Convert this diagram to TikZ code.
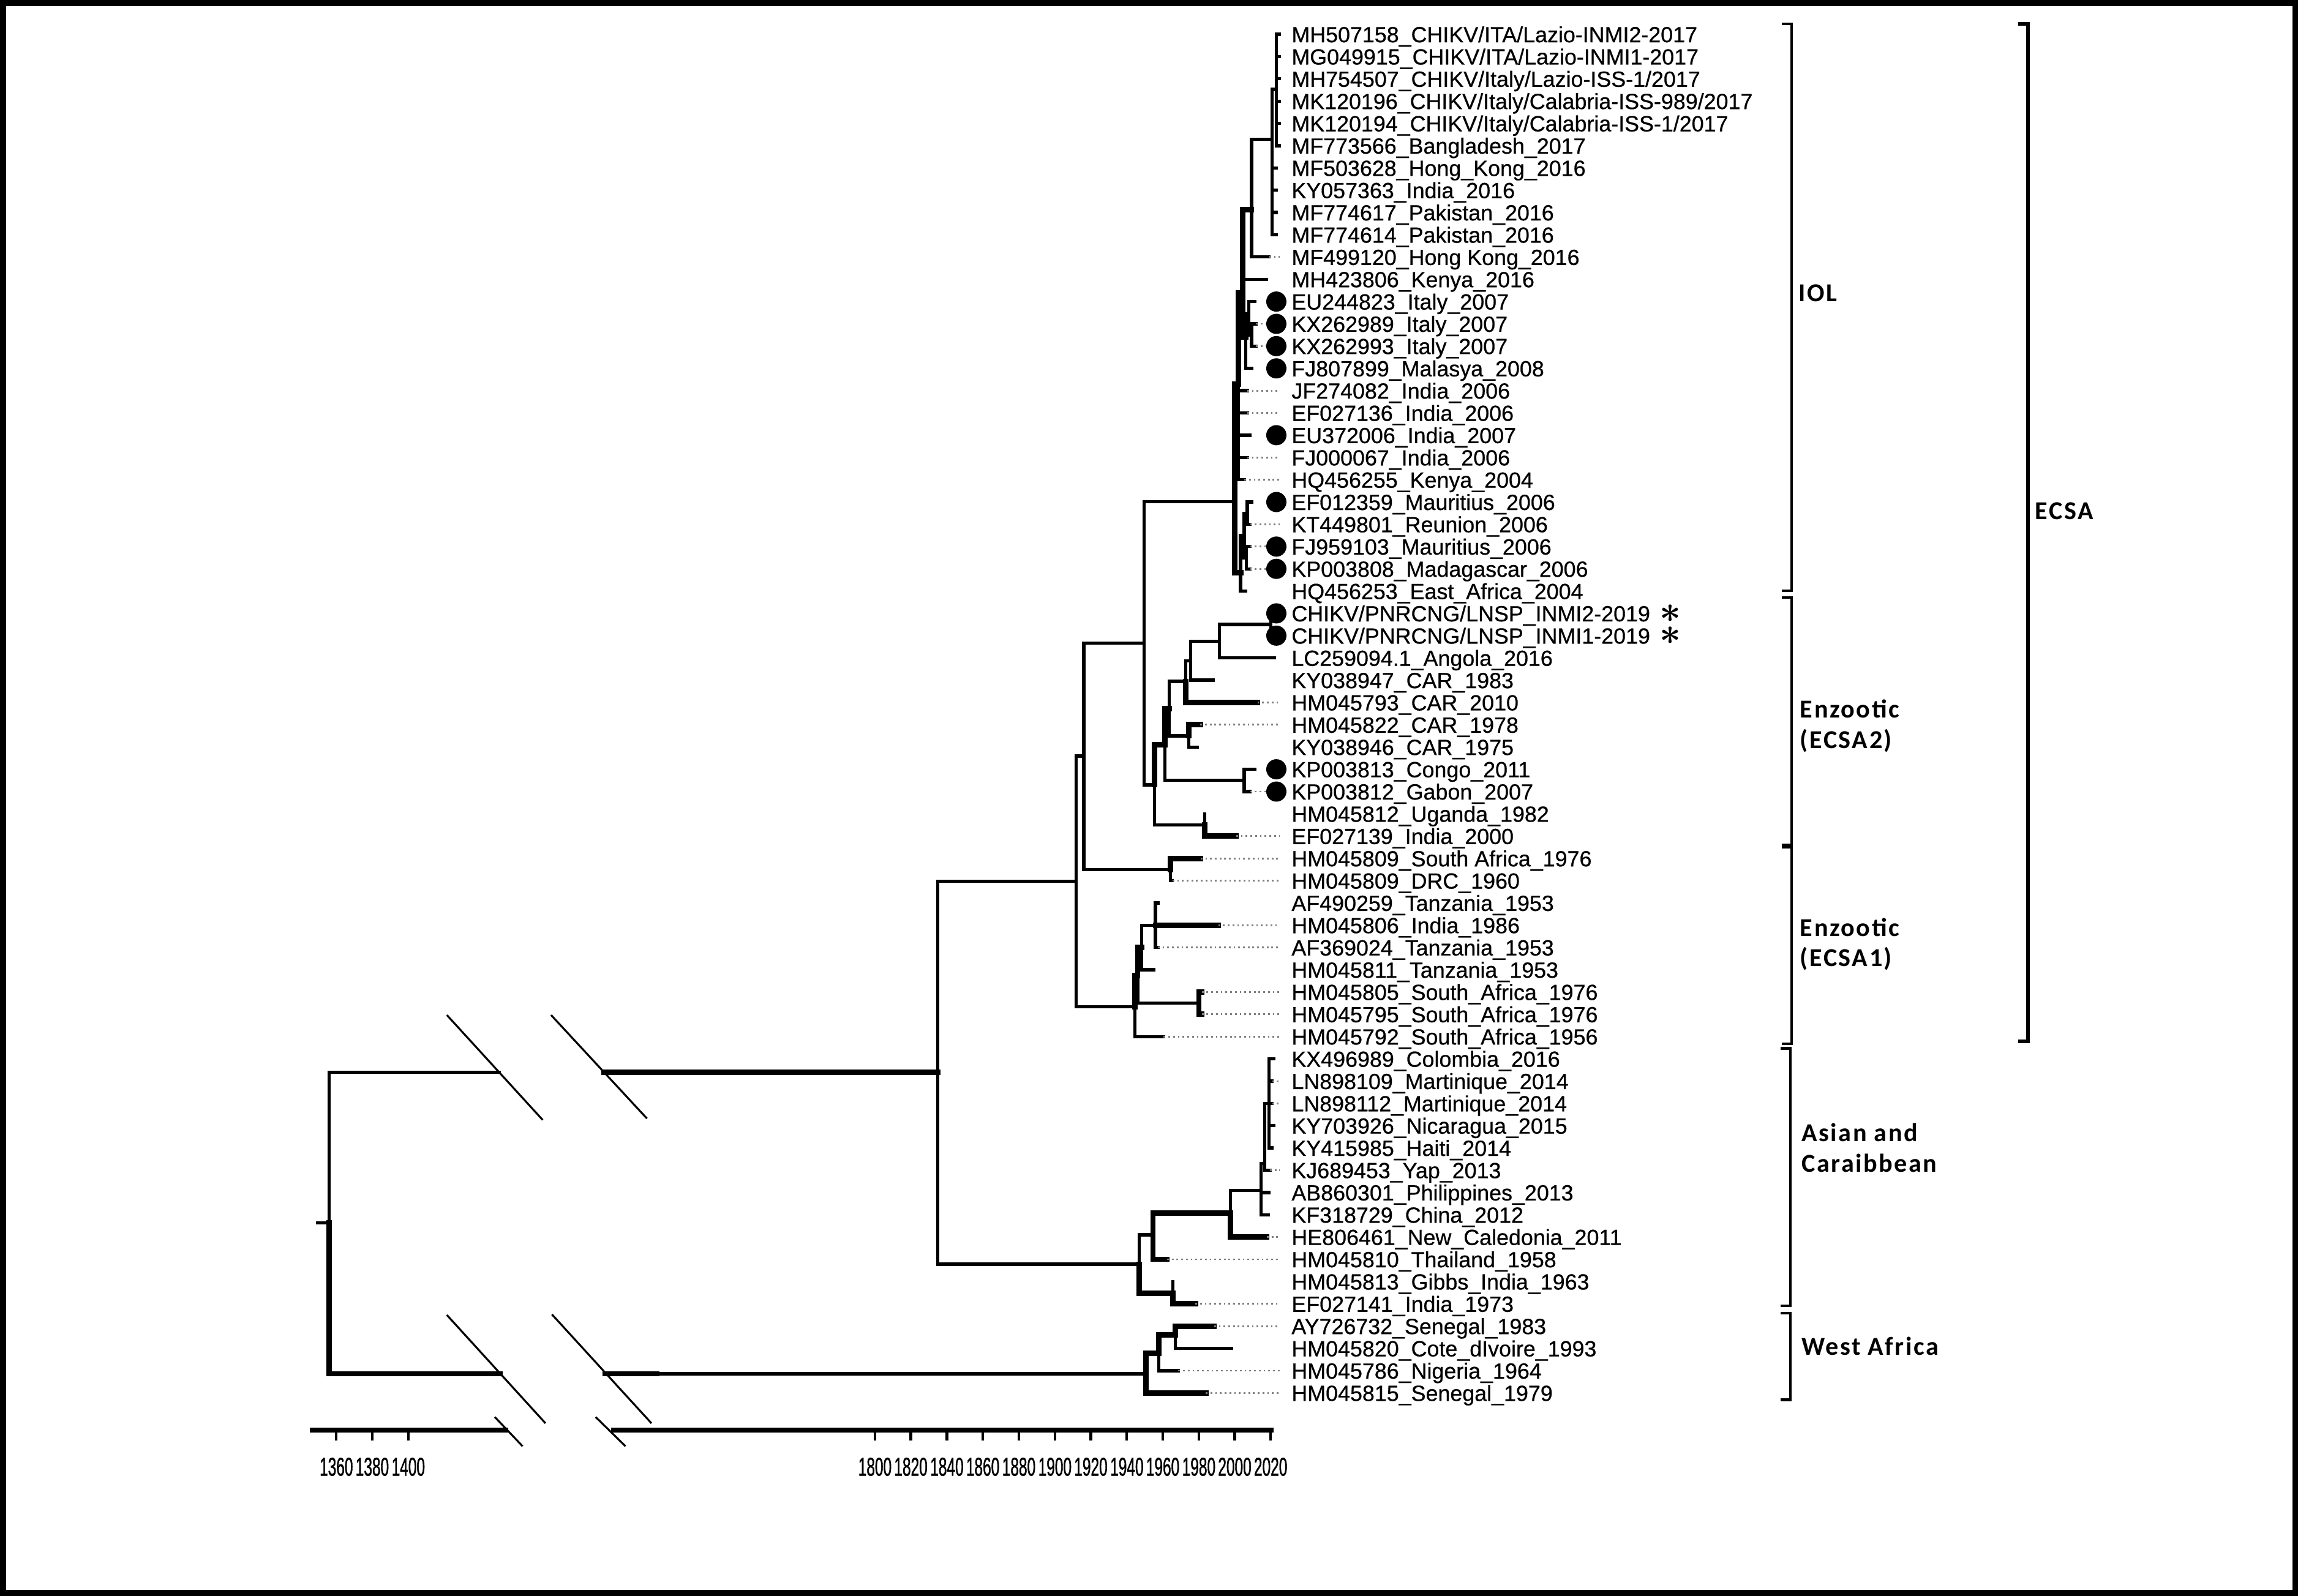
\documentclass[tikz,border=0pt]{standalone}
\usepackage{fontspec}
\usepackage{amsmath}
\usetikzlibrary{positioning,calc}
\newfontfamily\labfont[FakeBold=0.6]{Liberation Sans}
\newfontfamily\yearfont[FakeStretch=0.58, FakeBold=1]{Liberation Sans}
\newfontfamily\cladefont[LetterSpace=6]{Carlito}

\tikzstyle{br} = [line width=1.5pt, line cap=rect]
\tikzstyle{brt} = [line width=2.5pt, line cap=rect]
\tikzstyle{ext} = [draw=black!50, line width=0.8pt, dash pattern=on 0.8pt off 1.4pt]
\tikzstyle{brk} = [line width=0.9pt]
\tikzstyle{leaf} = [anchor=west, inner sep=0pt, font=\labfont\fontsize{10.2}{10.2}\selectfont, text height=7.4pt, text depth=0pt]
\tikzstyle{hit} = [circle, fill=black, inner sep=0pt, minimum size=0.33cm]
\tikzstyle{ast} = [anchor=west, align=left, inner sep=0pt, font=\fontsize{17.28}{10.35}\selectfont]
\tikzstyle{clade} = [anchor=west, align=left, inner sep=0pt, font=\cladefont\bfseries\fontsize{12}{14.2}\selectfont]
\tikzstyle{bracket} = [line width=1.2pt]
\tikzstyle{bigbracket} = [line width=1.8pt]
\tikzstyle{axis} = [line width=2.4pt]
\tikzstyle{tick} = [line width=1.2pt]
\tikzstyle{year} = [inner sep=0pt, font=\yearfont\fontsize{12}{12}\selectfont]

\begin{document}
\begin{tikzpicture}[x=0.023935cm, y=-0.023935cm]
\useasboundingbox (0,0) rectangle (1568,1089);
\draw[line width=2.7pt] (2,2) rectangle (1566,1087);

% leaves
\coordinate (t1) at (873,23.4); \node[leaf] (l1) at (881,23.4) {MH507158\_CHIKV/ITA/Lazio-INMI2-2017};
\coordinate (t2) at (873,38.6); \node[leaf] (l2) at (881,38.6) {MG049915\_CHIKV/ITA/Lazio-INMI1-2017};
\coordinate (t3) at (873,53.8); \node[leaf] (l3) at (881,53.8) {MH754507\_CHIKV/Italy/Lazio-ISS-1/2017};
\coordinate (t4) at (873,69.0); \node[leaf] (l4) at (881,69.0) {MK120196\_CHIKV/Italy/Calabria-ISS-989/2017};
\coordinate (t5) at (873,84.2); \node[leaf] (l5) at (881,84.2) {MK120194\_CHIKV/Italy/Calabria-ISS-1/2017};
\coordinate (t6) at (873,99.4); \node[leaf] (l6) at (881,99.4) {MF773566\_Bangladesh\_2017};
\coordinate (t7) at (871,114.6); \node[leaf] (l7) at (881,114.6) {MF503628\_Hong\_Kong\_2016};
\coordinate (t8) at (871,129.8); \node[leaf] (l8) at (881,129.8) {KY057363\_India\_2016};
\coordinate (t9) at (871,145.0); \node[leaf] (l9) at (881,145.0) {MF774617\_Pakistan\_2016};
\coordinate (t10) at (871,160.2); \node[leaf] (l10) at (881,160.2) {MF774614\_Pakistan\_2016};
\coordinate (t11) at (866,175.4); \node[leaf] (l11) at (881,175.4) {MF499120\_Hong Kong\_2016};
\coordinate (t12) at (864,190.6); \node[leaf] (l12) at (881,190.6) {MH423806\_Kenya\_2016};
\coordinate (t13) at (856,205.8); \node[leaf] (l13) at (881,205.8) {EU244823\_Italy\_2007};
\coordinate (t14) at (857,221.0); \node[leaf] (l14) at (881,221.0) {KX262989\_Italy\_2007};
\coordinate (t15) at (857,236.2); \node[leaf] (l15) at (881,236.2) {KX262993\_Italy\_2007};
\coordinate (t16) at (854,251.4); \node[leaf] (l16) at (881,251.4) {FJ807899\_Malasya\_2008};
\coordinate (t17) at (851,266.6); \node[leaf] (l17) at (881,266.6) {JF274082\_India\_2006};
\coordinate (t18) at (851,281.8); \node[leaf] (l18) at (881,281.8) {EF027136\_India\_2006};
\coordinate (t19) at (853,297.0); \node[leaf] (l19) at (881,297.0) {EU372006\_India\_2007};
\coordinate (t20) at (851,312.2); \node[leaf] (l20) at (881,312.2) {FJ000067\_India\_2006};
\coordinate (t21) at (849,327.4); \node[leaf] (l21) at (881,327.4) {HQ456255\_Kenya\_2004};
\coordinate (t22) at (854,342.6); \node[leaf] (l22) at (881,342.6) {EF012359\_Mauritius\_2006};
\coordinate (t23) at (853,357.8); \node[leaf] (l23) at (881,357.8) {KT449801\_Reunion\_2006};
\coordinate (t24) at (853,373.0); \node[leaf] (l24) at (881,373.0) {FJ959103\_Mauritius\_2006};
\coordinate (t25) at (853,388.2); \node[leaf] (l25) at (881,388.2) {KP003808\_Madagascar\_2006};
\coordinate (t26) at (850,403.4); \node[leaf] (l26) at (881,403.4) {HQ456253\_East\_Africa\_2004};
\coordinate (t27) at (869,418.6); \node[leaf] (l27) at (881,418.6) {CHIKV/PNRCNG/LNSP\_INMI2-2019};
\coordinate (t28) at (869,433.8); \node[leaf] (l28) at (881,433.8) {CHIKV/PNRCNG/LNSP\_INMI1-2019};
\coordinate (t29) at (869.5,449.0); \node[leaf] (l29) at (881,449.0) {LC259094.1\_Angola\_2016};
\coordinate (t30) at (827.8,464.2); \node[leaf] (l30) at (881,464.2) {KY038947\_CAR\_1983};
\coordinate (t31) at (858,479.4); \node[leaf] (l31) at (881,479.4) {HM045793\_CAR\_2010};
\coordinate (t32) at (819,494.6); \node[leaf] (l32) at (881,494.6) {HM045822\_CAR\_1978};
\coordinate (t33) at (817,509.8); \node[leaf] (l33) at (881,509.8) {KY038946\_CAR\_1975};
\coordinate (t34) at (856,525.0); \node[leaf] (l34) at (881,525.0) {KP003813\_Congo\_2011};
\coordinate (t35) at (853,540.2); \node[leaf] (l35) at (881,540.2) {KP003812\_Gabon\_2007};
\coordinate (t36) at (822,555.4); \node[leaf] (l36) at (881,555.4) {HM045812\_Uganda\_1982};
\coordinate (t37) at (843.5,570.6); \node[leaf] (l37) at (881,570.6) {EF027139\_India\_2000};
\coordinate (t38) at (819.2,585.8); \node[leaf] (l38) at (881,585.8) {HM045809\_South Africa\_1976};
\coordinate (t39) at (800,601.0); \node[leaf] (l39) at (881,601.0) {HM045809\_DRC\_1960};
\coordinate (t40) at (790,616.2); \node[leaf] (l40) at (881,616.2) {AF490259\_Tanzania\_1953};
\coordinate (t41) at (831.3,631.4); \node[leaf] (l41) at (881,631.4) {HM045806\_India\_1986};
\coordinate (t42) at (790,646.6); \node[leaf] (l42) at (881,646.6) {AF369024\_Tanzania\_1953};
\coordinate (t43) at (787.4,661.8); \node[leaf] (l43) at (881,661.8) {HM045811\_Tanzania\_1953};
\coordinate (t44) at (820,677.0); \node[leaf] (l44) at (881,677.0) {HM045805\_South\_Africa\_1976};
\coordinate (t45) at (820,692.2); \node[leaf] (l45) at (881,692.2) {HM045795\_South\_Africa\_1976};
\coordinate (t46) at (794,707.4); \node[leaf] (l46) at (881,707.4) {HM045792\_South\_Africa\_1956};
\coordinate (t47) at (869,722.6); \node[leaf] (l47) at (881,722.6) {KX496989\_Colombia\_2016};
\coordinate (t48) at (868,737.8); \node[leaf] (l48) at (881,737.8) {LN898109\_Martinique\_2014};
\coordinate (t49) at (868,753.0); \node[leaf] (l49) at (881,753.0) {LN898112\_Martinique\_2014};
\coordinate (t50) at (869,768.2); \node[leaf] (l50) at (881,768.2) {KY703926\_Nicaragua\_2015};
\coordinate (t51) at (868,783.4); \node[leaf] (l51) at (881,783.4) {KY415985\_Haiti\_2014};
\coordinate (t52) at (866.5,798.6); \node[leaf] (l52) at (881,798.6) {KJ689453\_Yap\_2013};
\coordinate (t53) at (866,813.8); \node[leaf] (l53) at (881,813.8) {AB860301\_Philippines\_2013};
\coordinate (t54) at (865.5,829.0); \node[leaf] (l54) at (881,829.0) {KF318729\_China\_2012};
\coordinate (t55) at (864.4,844.2); \node[leaf] (l55) at (881,844.2) {HE806461\_New\_Caledonia\_2011};
\coordinate (t56) at (796.3,859.4); \node[leaf] (l56) at (881,859.4) {HM045810\_Thailand\_1958};
\coordinate (t57) at (800.4,874.6); \node[leaf] (l57) at (881,874.6) {HM045813\_Gibbs\_India\_1963};
\coordinate (t58) at (815.6,889.8); \node[leaf] (l58) at (881,889.8) {EF027141\_India\_1973};
\coordinate (t59) at (828.4,905.0); \node[leaf] (l59) at (881,905.0) {AY726732\_Senegal\_1983};
\coordinate (t60) at (840.4,920.2); \node[leaf] (l60) at (881,920.2) {HM045820\_Cote\_dIvoire\_1993};
\coordinate (t61) at (804,935.4); \node[leaf] (l61) at (881,935.4) {HM045786\_Nigeria\_1964};
\coordinate (t62) at (822.7,950.6); \node[leaf] (l62) at (881,950.6) {HM045815\_Senegal\_1979};

% internal nodes
\coordinate (rs) at (216.7,834.5);
\coordinate (rt) at (224.5,834.5);
\coordinate (tb1) at (340.7,731.9);
\coordinate (tb2) at (412.3,731.9);
\coordinate (bb1) at (341,937.5);
\coordinate (bb2) at (413.1,937.5);
\coordinate (bb3) at (448,937.5);
\coordinate (A) at (640,731.9);
\coordinate (B) at (734.3,601.5);
\coordinate (C) at (739.5,516);
\coordinate (D) at (780.5,439);
\coordinate (I) at (842.5,342.3);
\coordinate (Q) at (845,262);
\coordinate (T) at (848,200);
\coordinate (U) at (854,143);
\coordinate (X) at (868,95);
\coordinate (W) at (871,61);
\coordinate (It) at (850,230);
\coordinate (It2) at (852,214);
\coordinate (It3) at (854,228.6);
\coordinate (M1) at (846.5,390.7);
\coordinate (M2) at (849,365.4);
\coordinate (M3) at (851,350.2);
\coordinate (M4) at (850.5,380.6);
\coordinate (E2) at (787.6,535.6);
\coordinate (E2b) at (822,563);
\coordinate (H6) at (795,508.1);
\coordinate (CG) at (849,532.6);
\coordinate (H4) at (797.7,483.6);
\coordinate (H5) at (811,502.2);
\coordinate (H3) at (809,465);
\coordinate (H2) at (812.5,451);
\coordinate (H1) at (832,437.6);
\coordinate (CH) at (867,426.2);
\coordinate (SD) at (798.7,593.4);
\coordinate (E1) at (774.4,687);
\coordinate (F3) at (776.3,665.6);
\coordinate (F2) at (779,646.6);
\coordinate (F1) at (788.4,631.4);
\coordinate (F4) at (818,684.6);
\coordinate (AS) at (777.2,862.7);
\coordinate (AS1) at (786.7,842.7);
\coordinate (AS2) at (800.4,882.6);
\coordinate (AS3) at (839.6,828);
\coordinate (AS4) at (860.3,812.5);
\coordinate (AS5) at (862.8,794);
\coordinate (AS6) at (866,753);
\coordinate (WA) at (782,937.5);
\coordinate (WA1) at (790.8,923.4);
\coordinate (WA2) at (802,911);
\coordinate (dx) at (873,0);

% root and broken branches
\draw[br] (rs) -- (rt);
\draw[br] (rt) |- (tb1);
\draw[brt] (tb2) -- (A);
\draw[brt] (rt) |- (bb1);
\draw[brt] (bb2) -- (bb3);
\draw[br] (bb3) -- (WA);
\draw[brk] (304.9,692.7) -- (370.3,764.3);
\draw[brk] (376,692.7) -- (441.4,763.3);
\draw[brk] (304.9,897.4) -- (372.2,971.3);
\draw[brk] (376.6,897) -- (444.5,971.3);

% ECSA
\draw[br] (A) |- (B);
\draw[br] (A) |- (AS);
\draw[br] (B) |- (C);
\draw[br] (B) |- (E1);
\draw[br] (C) |- (D);
\draw[br] (C) |- (SD);
\draw[br] (D) |- (I);
\draw[br] (D) |- (E2);
% IOL
\draw[brt] (I) |- (Q);
\draw[brt] (I) |- (M1);
\draw[brt] (Q) |- (T);
\draw[br] (Q) |- (t17); \draw[br] (Q) |- (t18); \draw[br] (Q) |- (t19);
\draw[br] (Q) |- (t20); \draw[br] (Q) |- (t21);
\draw[brt] (T) |- (U);
\draw[br] (T) |- (t12);
\draw[brt] (T) |- (It);
\draw[br] (It) |- (It2); \draw[br] (It) |- (t16);
\draw[br] (It2) |- (t13); \draw[br] (It2) |- (It3);
\draw[br] (It3) |- (t14); \draw[br] (It3) |- (t15);
\draw[br] (U) |- (X); \draw[br] (U) |- (t11);
\draw[br] (X) |- (W);
\draw[br] (X) |- (t7); \draw[br] (X) |- (t8); \draw[br] (X) |- (t9); \draw[br] (X) |- (t10);
\draw[br] (W) |- (t1); \draw[br] (W) |- (t2); \draw[br] (W) |- (t3);
\draw[br] (W) |- (t4); \draw[br] (W) |- (t5); \draw[br] (W) |- (t6);
\draw[br] (M1) |- (M2); \draw[br] (M1) |- (t26);
\draw[br] (M2) |- (M3); \draw[br] (M2) |- (M4);
\draw[br] (M3) |- (t22); \draw[br] (M3) |- (t23);
\draw[br] (M4) |- (t24); \draw[br] (M4) |- (t25);
% ECSA2
\draw[brt] (E2) |- (H6);
\draw[br] (E2) |- (E2b);
\draw[br] (E2b) |- (t36); \draw[brt] (E2b) |- (t37);
\draw[brt] (H6) |- (H4);
\draw[br] (H6) |- (CG);
\draw[br] (CG) |- (t34); \draw[br] (CG) |- (t35);
\draw[br] (H4) |- (H3); \draw[br] (H4) |- (H5);
\draw[brt] (H5) |- (t32); \draw[br] (H5) |- (t33);
\draw[br] (H3) |- (H2); \draw[brt] (H3) |- (t31);
\draw[br] (H2) |- (H1); \draw[br] (H2) |- (t30);
\draw[br] (H1) |- (CH); \draw[br] (H1) |- (t29);
\draw[br] (CH) |- (t27); \draw[br] (CH) |- (t28);
\draw[brt] (SD) |- (t38); \draw[br] (SD) |- (t39);
% ECSA1
\draw[brt] (E1) |- (F3); \draw[br] (E1) |- (t46);
\draw[brt] (F3) |- (F2); \draw[br] (F3) |- (F4);
\draw[brt] (F4) |- (t44); \draw[brt] (F4) |- (t45);
\draw[br] (F2) |- (F1); \draw[br] (F2) |- (t43);
\draw[br] (F1) |- (t40); \draw[brt] (F1) |- (t41); \draw[br] (F1) |- (t42);
% Asian
\draw[br] (AS) |- (AS1); \draw[brt] (AS) |- (AS2);
\draw[brt] (AS1) |- (AS3); \draw[brt] (AS1) |- (t56);
\draw[br] (AS3) |- (AS4); \draw[brt] (AS3) |- (t55);
\draw[br] (AS4) |- (AS5); \draw[br] (AS4) |- (t53); \draw[br] (AS4) |- (t54);
\draw[br] (AS5) |- (AS6); \draw[br] (AS5) |- (t52);
\draw[br] (AS6) |- (t47); \draw[br] (AS6) |- (t48); \draw[br] (AS6) |- (t49);
\draw[br] (AS6) |- (t50); \draw[br] (AS6) |- (t51);
\draw[br] (AS2) |- (t57); \draw[brt] (AS2) |- (t58);
% West Africa
\draw[brt] (WA) |- (WA1); \draw[brt] (WA) |- (t62);
\draw[brt] (WA1) |- (WA2); \draw[br] (WA1) |- (t61);
\draw[brt] (WA2) |- (t59); \draw[br] (WA2) |- (t60);

% dotted tips
\draw[ext] (t11) -- (t11 -| dx);
\draw[ext] (t14) -- (t14 -| dx);
\draw[ext] (t15) -- (t15 -| dx);
\draw[ext] (t17) -- (t17 -| dx);
\draw[ext] (t18) -- (t18 -| dx);
\draw[ext] (t20) -- (t20 -| dx);
\draw[ext] (t21) -- (t21 -| dx);
\draw[ext] (t23) -- (t23 -| dx);
\draw[ext] (t24) -- (t24 -| dx);
\draw[ext] (t25) -- (t25 -| dx);
\draw[ext] (t31) -- (t31 -| dx);
\draw[ext] (t32) -- (t32 -| dx);
\draw[ext] (t35) -- (t35 -| dx);
\draw[ext] (t37) -- (t37 -| dx);
\draw[ext] (t38) -- (t38 -| dx);
\draw[ext] (t39) -- (t39 -| dx);
\draw[ext] (t41) -- (t41 -| dx);
\draw[ext] (t42) -- (t42 -| dx);
\draw[ext] (t44) -- (t44 -| dx);
\draw[ext] (t45) -- (t45 -| dx);
\draw[ext] (t46) -- (t46 -| dx);
\draw[ext] (t48) -- (t48 -| dx);
\draw[ext] (t49) -- (t49 -| dx);
\draw[ext] (t52) -- (t52 -| dx);
\draw[ext] (t55) -- (t55 -| dx);
\draw[ext] (t56) -- (t56 -| dx);
\draw[ext] (t58) -- (t58 -| dx);
\draw[ext] (t59) -- (t59 -| dx);
\draw[ext] (t61) -- (t61 -| dx);
\draw[ext] (t62) -- (t62 -| dx);

% sampled sequences
\node[hit, left=2pt of l13] (c13) {};
\node[hit, left=2pt of l14] (c14) {};
\node[hit, left=2pt of l15] (c15) {};
\node[hit, left=2pt of l16] (c16) {};
\node[hit, left=2pt of l19] (c19) {};
\node[hit, left=2pt of l22] (c22) {};
\node[hit, left=2pt of l24] (c24) {};
\node[hit, left=2pt of l25] (c25) {};
\node[hit, left=2pt of l27] (c27) {};
\node[hit, left=2pt of l28] (c28) {};
\node[hit, left=2pt of l34] (c34) {};
\node[hit, left=2pt of l35] (c35) {};
\node[ast] (stars) at ($(l27.east)!0.5!(l28.east)+(4pt,0)$) {$\boldsymbol{\ast}$\\$\boldsymbol{\ast}$};

% clade brackets
\draw[bracket] (1215.8,16.3) -- (1222.4,16.3) -- (1222.4,403.2) -- (1215.8,403.2);
\draw[bracket] (1215.8,407.8) -- (1222.4,407.8) -- (1222.4,576.5) -- (1215.8,576.5);
\draw[bracket] (1215.8,578) -- (1222.4,578) -- (1222.4,712.3) -- (1215.8,712.3);
\draw[bracket] (1215,715.5) -- (1221.5,715.5) -- (1221.5,891.3) -- (1215,891.3);
\draw[bracket] (1215,896.2) -- (1221.5,896.2) -- (1221.5,955.3) -- (1215,955.3);
\draw[bigbracket] (1377.2,16.3) -- (1383.8,16.3) -- (1383.8,710.7) -- (1377.2,710.7);
\node[clade] (iol) at (1227,200) {IOL};
\node[clade] (ecsa2) at (1228,495.3) {Enzootic\\(ECSA2)};
\node[clade] (ecsa1) at (1228,644.4) {Enzootic\\(ECSA1)};
\node[clade] (asian) at (1229,783.4) {Asian and\\Caraibbean};
\node[clade] (wafr) at (1229,918.5) {West Africa};
\node[clade] (ecsa) at (1388.4,348.9) {ECSA};

% time axis
\coordinate (ax0) at (211.6,976);
\coordinate (axg1) at (346.7,976);
\coordinate (axg2) at (416.9,976);
\coordinate (ax1) at (869,976);
\draw[axis] (ax0) -- (axg1);
\draw[axis] (axg2) -- (ax1);
\draw[brk] (337.6,967) -- (356.6,987);
\draw[brk] (406.4,967) -- (426.8,987);
\draw[tick] (229.5,976) -- (229.5,983) (254,976) -- (254,983) (278.6,976) -- (278.6,983)
  (597,976) -- (597,983) (621.5,976) -- (621.5,983) (646.1,976) -- (646.1,983)
  (670.6,976) -- (670.6,983) (695.2,976) -- (695.2,983) (719.8,976) -- (719.8,983)
  (744.3,976) -- (744.3,983) (768.9,976) -- (768.9,983) (793.4,976) -- (793.4,983)
  (818,976) -- (818,983) (842.5,976) -- (842.5,983) (867,976) -- (867,983);
\node[year] (y1360) at (229.5,1001) {1360};
\node[year] (y1380) at (254,1001) {1380};
\node[year] (y1400) at (278.6,1001) {1400};
\node[year] (y1800) at (597,1001) {1800};
\node[year] (y1820) at (621.5,1001) {1820};
\node[year] (y1840) at (646.1,1001) {1840};
\node[year] (y1860) at (670.6,1001) {1860};
\node[year] (y1880) at (695.2,1001) {1880};
\node[year] (y1900) at (719.8,1001) {1900};
\node[year] (y1920) at (744.3,1001) {1920};
\node[year] (y1940) at (768.9,1001) {1940};
\node[year] (y1960) at (793.4,1001) {1960};
\node[year] (y1980) at (818,1001) {1980};
\node[year] (y2000) at (842.5,1001) {2000};
\node[year] (y2020) at (867,1001) {2020};
\end{tikzpicture}
\end{document}
